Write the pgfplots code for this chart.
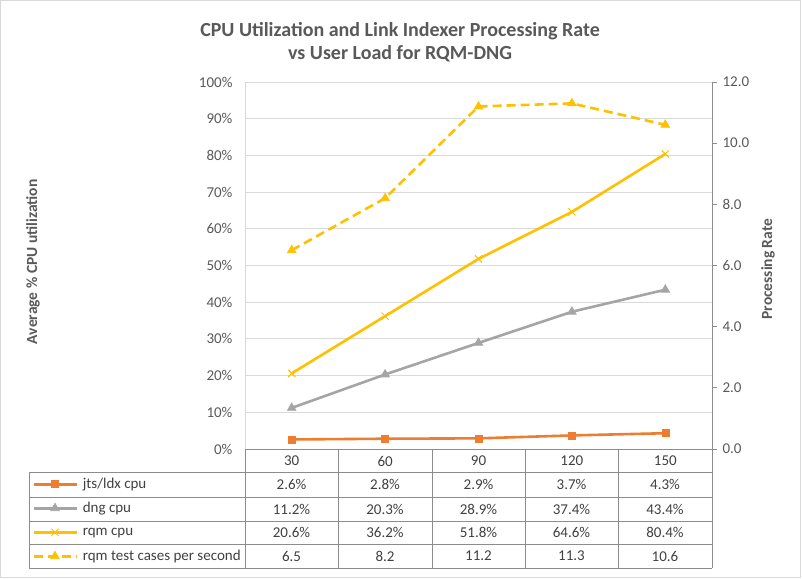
\documentclass[border=0pt]{standalone}
\usepackage{pgfplots}
\pgfplotsset{compat=1.18}
\usepackage{fontspec}
\setmainfont{Carlito}
\definecolor{cOrange}{HTML}{ED7D31}
\definecolor{cGray}{HTML}{A5A5A5}
\definecolor{cGold}{HTML}{FFC000}
\definecolor{gridc}{HTML}{D9D9D9}
\definecolor{tline}{HTML}{8C8C8C}
\definecolor{txt}{HTML}{595959}
\definecolor{dtxt}{HTML}{404040}
\begin{document}
\begin{tikzpicture}
\path[use as bounding box] (0,0) rectangle (802pt,578pt);
\draw[gridc, line width=1pt] (0.5pt,0.5pt) rectangle (800pt,577.5pt);
\begin{axis}[
 at={(245pt,129pt)}, anchor=south west,
 width=467pt, height=367pt, scale only axis,
 xmin=-0.5, xmax=4.5, ymin=0, ymax=100,
 axis x line*=bottom, axis y line*=left,
 x axis line style={tline, line width=0.8pt},
 y axis line style={gridc, line width=0.8pt},
 xtick={0,...,4}, xticklabels={30,60,90,120,150},
 major tick length=0pt,
 xticklabel style={anchor=center, yshift=-12pt, font=\fontsize{15}{18}\selectfont, text=dtxt},
 ytick={0,10,...,100},
 yticklabel={\pgfmathprintnumber{\tick}\%},
 yticklabel style={font=\fontsize{15}{18}\selectfont, text=txt, xshift=-9pt},
 ymajorgrids, grid style={gridc, line width=0.8pt},
 /pgf/number format/assume math mode=true,
 ylabel={Average \% CPU utilization},
 ylabel style={at={(axis description cs:-0.454,0.51)}, anchor=center, font=\bfseries\fontsize{15.5}{18}\selectfont, text=txt},
 title={CPU Utilization and Link Indexer Processing Rate\\vs User Load for RQM-DNG},
 title style={align=center, font=\bfseries\fontsize{20}{23}\selectfont, text=txt, at={(axis description cs:0.332,1.093)}, anchor=center},
 legend style={at={(axis description cs:-0.4561,-0.0627)}, anchor=north west, draw=none, fill=none, inner sep=0pt, row sep=0pt, column sep=5pt, font=\fontsize{15}{18}\selectfont, text=dtxt, nodes={inner sep=0pt, minimum height=24pt}},
 legend cell align=left,
 legend image code/.code={\draw[mark repeat=2, mark phase=2, #1] plot coordinates {(0pt,0pt) (21.5pt,0pt) (43pt,0pt)};},
]
\addplot[cOrange, line width=2.6pt, mark=square*, mark size=3.5pt, mark options={line width=0.6pt}] coordinates {(0,2.6)(1,2.8)(2,2.9)(3,3.7)(4,4.3)};
\addlegendentry{jts/ldx cpu}
\addplot[cGray, line width=2.6pt, mark=triangle*, mark size=5pt, mark options={line width=0.6pt}] coordinates {(0,11.2)(1,20.3)(2,28.9)(3,37.4)(4,43.4)};
\addlegendentry{dng cpu}
\addplot[cGold, line width=2.6pt, mark=x, mark size=5pt, mark options={line width=1pt}] coordinates {(0,20.6)(1,36.2)(2,51.8)(3,64.6)(4,80.4)};
\addlegendentry{rqm cpu}
\addlegendimage{cGold, line width=2.6pt, dash pattern=on 9pt off 5pt, mark=triangle*, mark size=5pt, mark options={solid, line width=0.6pt}}
\addlegendentry{rqm test cases per second}
\end{axis}
\begin{axis}[
 at={(245pt,129pt)}, anchor=south west,
 width=467pt, height=367pt, scale only axis,
 xmin=-0.5, xmax=4.5, ymin=0, ymax=12,
 axis y line*=right, axis x line=none,
 axis line style={tline, line width=0.8pt},
 ytick={0,2,...,12},
 /pgf/number format/assume math mode=true,
 yticklabel style={/pgf/number format/.cd, fixed, fixed zerofill, precision=1, /tikz/.cd, font=\fontsize{15}{18}\selectfont, text=txt, xshift=2pt},
 tick align=outside, major tick length=5pt, ytick style={tline, line width=0.8pt},
 ylabel={Processing Rate},
 ylabel style={at={(axis description cs:1.12,0.49)}, anchor=center, font=\bfseries\fontsize{15.5}{18}\selectfont, text=txt},
]
\addplot[cGold, line width=2.6pt, dash pattern=on 9pt off 5pt, mark=triangle*, mark size=5pt, mark options={solid, line width=0.6pt}] coordinates {(0,6.5)(1,8.2)(2,11.2)(3,11.3)(4,10.6)};
\end{axis}
\begin{scope}[x=1pt, y=-1pt, yshift=578pt]
\draw[tline, line width=0.8pt] (29,472) -- (712,472) (29,497) -- (712,497) (29,521) -- (712,521) (29,544) -- (712,544) (29,568) -- (712,568);
\draw[tline, line width=0.8pt] (29,472) -- (29,568);
\foreach \x in {245,338,432,525,618,712} \draw[tline, line width=0.8pt] (\x,449) -- (\x,568);
\begin{scope}[every node/.style={text=dtxt, font=\fontsize{15}{18}\selectfont, anchor=center}]
\node at (291.5,484.5) {2.6\%}; \node at (385,484.5) {2.8\%}; \node at (478.5,484.5) {2.9\%}; \node at (571.5,484.5) {3.7\%}; \node at (665,484.5) {4.3\%};
\node at (291.5,509) {11.2\%}; \node at (385,509) {20.3\%}; \node at (478.5,509) {28.9\%}; \node at (571.5,509) {37.4\%}; \node at (665,509) {43.4\%};
\node at (291.5,532.5) {20.6\%}; \node at (385,532.5) {36.2\%}; \node at (478.5,532.5) {51.8\%}; \node at (571.5,532.5) {64.6\%}; \node at (665,532.5) {80.4\%};
\node at (291.5,556) {6.5}; \node at (385,556) {8.2}; \node at (478.5,556) {11.2}; \node at (571.5,556) {11.3}; \node at (665,556) {10.6};
\end{scope}
\end{scope}
\end{tikzpicture}
\end{document}
